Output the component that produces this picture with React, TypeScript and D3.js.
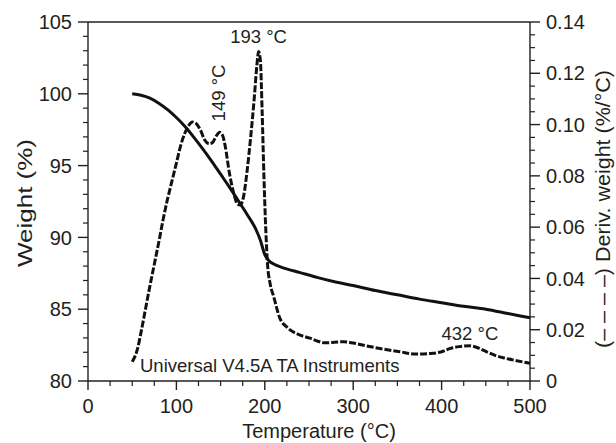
import React from "react";
import * as d3 from "d3";

// Weight (%) vs temperature (°C) — solid curve
const weightTemp = [50, 60, 70, 80, 90, 100, 110, 120, 130, 140, 150, 160, 170, 180, 190, 195, 200, 205, 210, 220, 240, 260, 280, 300, 325, 350, 375, 400, 425, 450, 475, 500];
const weightVal = [100.0, 99.9, 99.7, 99.35, 98.9, 98.35, 97.7, 96.95, 96.15, 95.3, 94.4, 93.5, 92.55, 91.6, 90.55, 89.8, 88.8, 88.35, 88.15, 87.9, 87.55, 87.2, 86.9, 86.65, 86.3, 86.0, 85.7, 85.45, 85.2, 85.0, 84.7, 84.4];

// Derivative weight (%/°C) — dashed curve
const derivTemp = [50, 53, 56, 60, 65, 70, 75, 80, 85, 90, 95, 100, 105, 110, 114, 118, 122, 127, 132, 137, 141, 145, 149, 152, 155, 160, 165, 169, 172, 176, 180, 184, 188, 191, 193, 195, 197, 199, 201, 203, 206, 210, 217, 225, 240, 251, 260, 268, 289, 300, 315, 335, 353, 371, 390, 400, 410, 420, 432, 442, 451, 462, 473, 485, 500];
const derivVal = [0.0075, 0.0095, 0.0125, 0.019, 0.028, 0.037, 0.0455, 0.054, 0.063, 0.071, 0.078, 0.085, 0.092, 0.097, 0.0997, 0.101, 0.1005, 0.098, 0.094, 0.0925, 0.093, 0.0955, 0.097, 0.096, 0.092, 0.081, 0.073, 0.069, 0.0686, 0.072, 0.082, 0.095, 0.11, 0.123, 0.1285, 0.125, 0.105, 0.08, 0.06, 0.046, 0.038, 0.033, 0.0245, 0.021, 0.0179, 0.0167, 0.0155, 0.0149, 0.0153, 0.0148, 0.0137, 0.0124, 0.0114, 0.0105, 0.0108, 0.0114, 0.0127, 0.0134, 0.0137, 0.0128, 0.0114, 0.0098, 0.0088, 0.0079, 0.0069];

// Axes
const xTicks = [0, 100, 200, 300, 400, 500];
const xMinorStep = 25;
const leftTicks = [80, 85, 90, 95, 100, 105];
const leftMinorStep = 1;
const rightTicks = [0, 0.02, 0.04, 0.06, 0.08, 0.1, 0.12, 0.14];
const rightTickLabels = ["0", "0.02", "0.04", "0.06", "0.08", "0.10", "0.12", "0.14"];
const rightMinorStep = 0.005;

// Text
const xTitle = "Temperature (°C)";
const leftTitle = "Weight (%)";
const rightTitle = "(– – – –) Deriv. weight (%/°C)";
const peakLabels = ["193 °C", "149 °C", "432 °C"];
const peakTemps = [193, 149, 432];
const footer = "Universal V4.5A TA Instruments";

const W = 616;
const H = 443;
const left = 88;
const right = 530;
const top = 22;
const bottom = 381;
const ink = "#231f20";
const font = "'Liberation Sans', Arial, Helvetica, sans-serif";

export default function App() {
  const x = d3.scaleLinear().domain([0, 500]).range([left, right]);
  const yL = d3.scaleLinear().domain([80, 105]).range([bottom, top]);
  const yR = d3.scaleLinear().domain([0, 0.14]).range([bottom, top]);

  const weightLine = d3
    .line<number>()
    .x((_, i) => x(weightTemp[i]))
    .y((d) => yL(d))
    .curve(d3.curveMonotoneX)(weightVal) as string;

  const derivLine = d3
    .line<number>()
    .x((_, i) => x(derivTemp[i]))
    .y((d) => yR(d))
    .curve(d3.curveMonotoneX)(derivVal) as string;

  const xMinor = d3.range(0, 500 + 0.001, xMinorStep).filter((v) => v % 100 !== 0);
  const lMinor = d3.range(80, 105 + 0.001, leftMinorStep).filter((v) => Math.round(v) % 5 !== 0);
  const rMinor = d3
    .range(0, 0.14 + 1e-9, rightMinorStep)
    .filter((v) => Math.abs(Math.round(v * 1000) % 20) > 1e-6);

  const peak193x = x(peakTemps[0]);
  const peak149x = x(peakTemps[1]);
  const peak432x = x(peakTemps[2]);

  return (
    <svg
      width={W}
      height={H}
      style={{ position: "absolute", left: 0, top: 0, background: "#fff" }}
      fontFamily={font}
    >
      <rect x={0} y={0} width={W} height={H} fill="#fff" />
      {/* frame */}
      <line x1={left} x2={right} y1={top} y2={top} stroke={ink} strokeWidth={1.4} />
      <line x1={left} x2={right} y1={bottom} y2={bottom} stroke={ink} strokeWidth={1.4} />
      <line x1={left} x2={left} y1={top} y2={bottom} stroke={ink} strokeWidth={1.4} />
      <line x1={right} x2={right} y1={top} y2={bottom} stroke={ink} strokeWidth={1.4} />

      {/* bottom ticks */}
      {xTicks.map((t) => (
        <g key={"xt" + t}>
          <line x1={x(t)} x2={x(t)} y1={bottom} y2={bottom + 9} stroke={ink} strokeWidth={1.4} />
          <text x={x(t)} y={413} textAnchor="middle" fontSize={20} fill={ink}>
            {t}
          </text>
        </g>
      ))}
      {xMinor.map((t) => (
        <line key={"xm" + t} x1={x(t)} x2={x(t)} y1={bottom} y2={bottom + 5} stroke={ink} strokeWidth={1.2} />
      ))}

      {/* left ticks */}
      {leftTicks.map((t) => (
        <g key={"lt" + t}>
          <line x1={left - 10} x2={left} y1={yL(t)} y2={yL(t)} stroke={ink} strokeWidth={1.4} />
          <text x={72} y={yL(t)} dy="0.36em" textAnchor="end" fontSize={20} fill={ink}>
            {t}
          </text>
        </g>
      ))}
      {lMinor.map((t) => (
        <line key={"lm" + t} x1={left - 5} x2={left} y1={yL(t)} y2={yL(t)} stroke={ink} strokeWidth={1.2} />
      ))}

      {/* right ticks */}
      {rightTicks.map((t, i) => (
        <g key={"rt" + t}>
          <line x1={right} x2={right + 10} y1={yR(t)} y2={yR(t)} stroke={ink} strokeWidth={1.4} />
          <text x={546} y={yR(t)} dy="0.36em" textAnchor="start" fontSize={20} fill={ink}>
            {rightTickLabels[i]}
          </text>
        </g>
      ))}
      {rMinor.map((t) => (
        <line key={"rm" + t} x1={right} x2={right + 5} y1={yR(t)} y2={yR(t)} stroke={ink} strokeWidth={1.2} />
      ))}

      {/* curves */}
      <path d={weightLine} fill="none" stroke="#111" strokeWidth={3} strokeLinejoin="round" />
      <path d={derivLine} fill="none" stroke="#111" strokeWidth={3} strokeDasharray="7,2" strokeLinejoin="round" />

      {/* titles */}
      <text x={319} y={438} textAnchor="middle" fontSize={20} fill={ink}>
        {xTitle}
      </text>
      <text
        transform={`translate(32,203) rotate(-90)`}
        textAnchor="middle"
        fontSize={20}
        fill={ink}
        textLength={128}
        lengthAdjust="spacingAndGlyphs"
      >
        {leftTitle}
      </text>
      <text
        transform={`translate(610,209) rotate(-90)`}
        textAnchor="middle"
        fontSize={20}
        fill={ink}
        textLength={278}
        lengthAdjust="spacingAndGlyphs"
      >
        {rightTitle}
      </text>

      {/* annotations */}
      <text x={peak193x + 0} y={43} textAnchor="middle" fontSize={18.5} fill={ink}>
        {peakLabels[0]}
      </text>
      <text transform={`translate(${peak149x + 5},93) rotate(-90)`} textAnchor="middle" fontSize={18.5} fill={ink}>
        {peakLabels[1]}
      </text>
      <text x={peak432x + 0} y={340} textAnchor="middle" fontSize={18.5} fill={ink}>
        {peakLabels[2]}
      </text>
      <text x={140} y={372} textAnchor="start" fontSize={18.5} fill={ink}>
        {footer}
      </text>
    </svg>
  );
}
